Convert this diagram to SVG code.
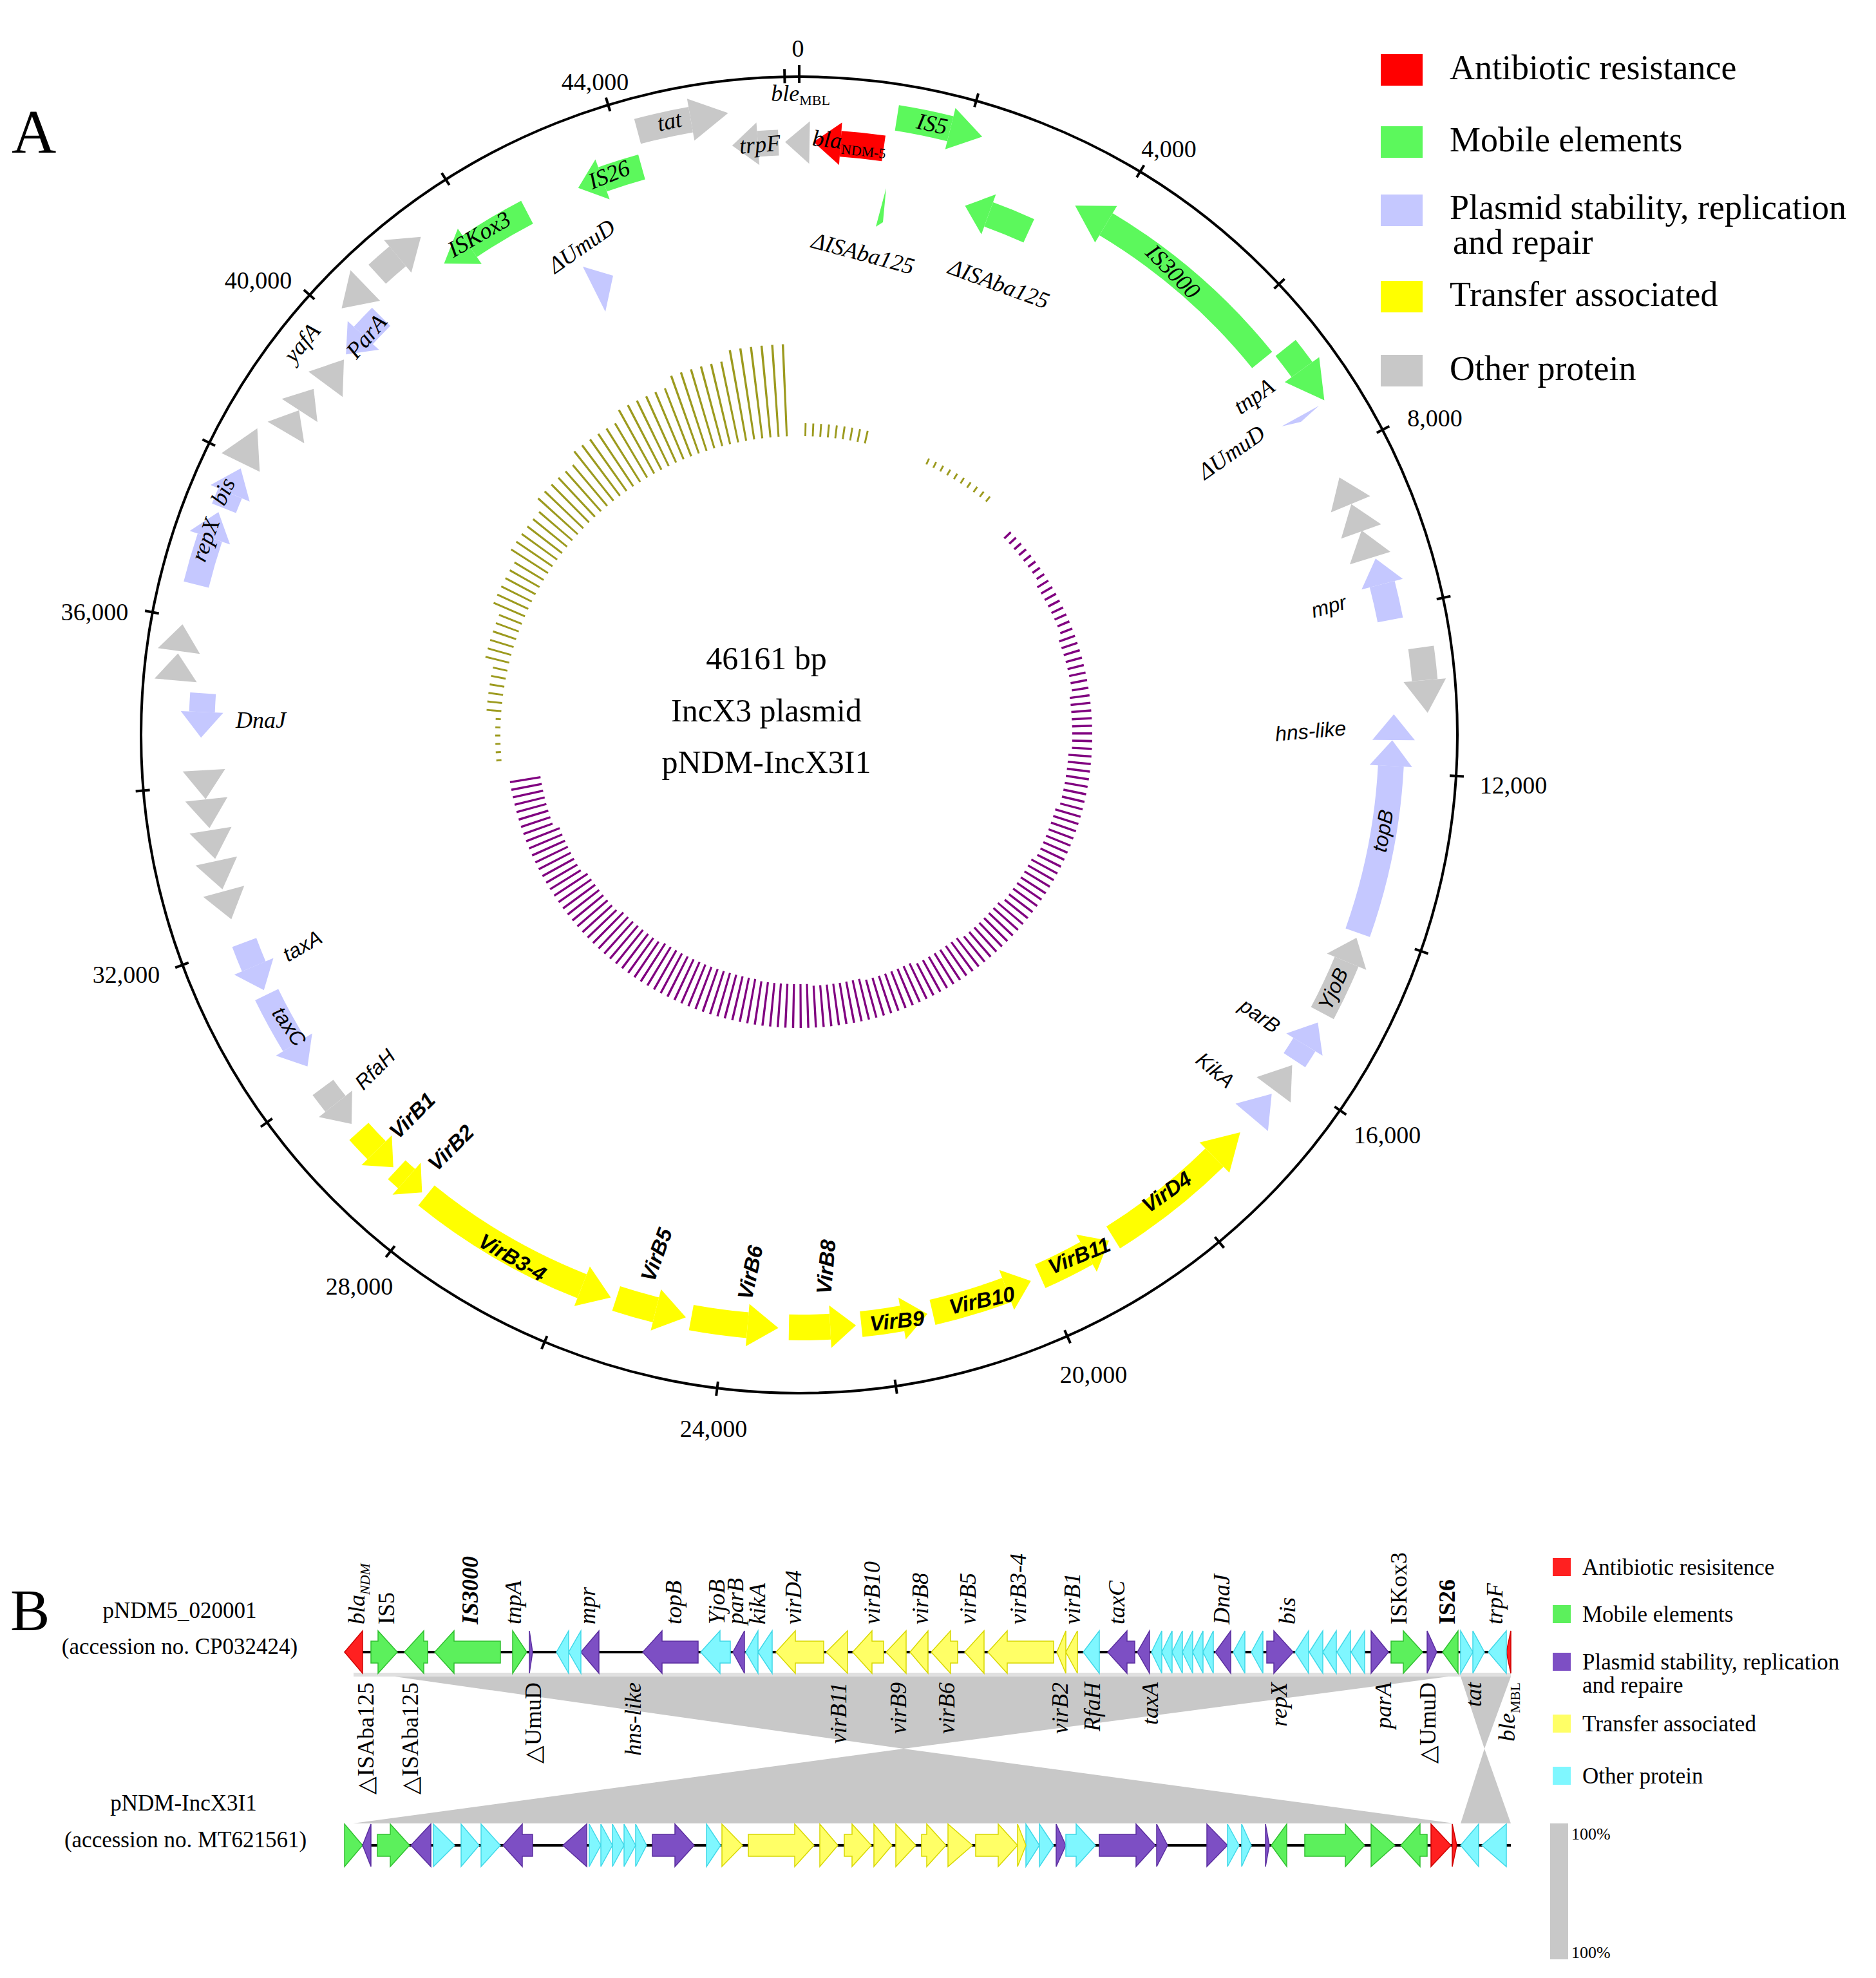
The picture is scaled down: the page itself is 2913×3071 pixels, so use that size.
<svg xmlns="http://www.w3.org/2000/svg" width="2913" height="3071" viewBox="0 0 2913 3071">
<style>
text{font-family:"Liberation Serif","Times New Roman",serif;fill:#000}
.it{font-style:italic;font-size:36px}
.sa{font-family:"Liberation Sans",Arial,sans-serif;font-style:italic;font-size:32px}
.vb{font-family:"Liberation Sans",Arial,sans-serif;font-style:italic;font-weight:bold;font-size:33px}
.tk{font-size:38px;text-anchor:middle}
.b{fill:none;stroke-width:40}
.lg{font-size:54px}
.lb{font-size:35px}
.bl{font-style:italic;font-size:36px}
.o6{fill:none;stroke:#9c9a1e;stroke-dasharray:0.35 1.217 0.35 1.217 0.35 1.217 0.35 1.217 0.35 1.217 0.35 1.217 0 400}
.p8{fill:none;stroke:#800080;stroke-dasharray:0.45 1.05 0.45 1.05 0.45 1.05 0.45 1.05 0.45 1.05 0.45 1.05 0.45 1.05 0.45 1.05 0 400}
.R{fill:#ff0000}.G{fill:#5cf85c}.L{fill:#c5c8ff}.Y{fill:#ffff00}.Gr{fill:#c8c8c8}
.bR{fill:#ff2020;stroke:#d00000;stroke-width:1.5}
.bG{fill:#5cf05c;stroke:#30c030;stroke-width:1.5}
.bP{fill:#7d4fc4;stroke:#5b2ea0;stroke-width:1.5}
.bY{fill:#ffff66;stroke:#d8d800;stroke-width:1.5}
.bC{fill:#7ff7ff;stroke:#40d8e8;stroke-width:1.5}
</style>
<rect width="2913" height="3071" fill="#fff"/>
<text x="18" y="237" font-size="96">A</text>

<g id="backbone" transform="translate(1241,1141)">
<circle r="1022" fill="none" stroke="#000" stroke-width="4"/>
<g stroke="#000" stroke-width="4">
<line y1="-1012" y2="-1040" transform="rotate(0)"/><line y1="-1012" y2="-1034" transform="rotate(15.60)"/>
<line y1="-1012" y2="-1034" transform="rotate(31.19)"/><line y1="-1012" y2="-1034" transform="rotate(46.79)"/>
<line y1="-1012" y2="-1034" transform="rotate(62.39)"/><line y1="-1012" y2="-1034" transform="rotate(77.98)"/>
<line y1="-1012" y2="-1034" transform="rotate(93.58)"/><line y1="-1012" y2="-1034" transform="rotate(109.18)"/>
<line y1="-1012" y2="-1034" transform="rotate(124.77)"/><line y1="-1012" y2="-1034" transform="rotate(140.37)"/>
<line y1="-1012" y2="-1034" transform="rotate(155.97)"/><line y1="-1012" y2="-1034" transform="rotate(171.56)"/>
<line y1="-1012" y2="-1034" transform="rotate(187.16)"/><line y1="-1012" y2="-1034" transform="rotate(202.76)"/>
<line y1="-1012" y2="-1034" transform="rotate(218.36)"/><line y1="-1012" y2="-1034" transform="rotate(233.95)"/>
<line y1="-1012" y2="-1034" transform="rotate(249.55)"/><line y1="-1012" y2="-1034" transform="rotate(265.15)"/>
<line y1="-1012" y2="-1034" transform="rotate(280.74)"/><line y1="-1012" y2="-1034" transform="rotate(296.34)"/>
<line y1="-1012" y2="-1034" transform="rotate(311.94)"/><line y1="-1012" y2="-1034" transform="rotate(327.53)"/>
<line y1="-1012" y2="-1034" transform="rotate(343.13)"/><line y1="-1012" y2="-1034" transform="rotate(358.73)"/>
</g>
</g>
<g id="scale-labels" class="tk">
<text x="1239" y="88">0</text><text x="1815" y="244">4,000</text><text x="2228" y="662">8,000</text>
<text x="2350" y="1232">12,000</text><text x="2154" y="1775">16,000</text><text x="1698" y="2147">20,000</text>
<text x="1108" y="2231">24,000</text><text x="558" y="2010">28,000</text><text x="196" y="1526">32,000</text>
<text x="147" y="963">36,000</text><text x="401" y="448">40,000</text><text x="924" y="140">44,000</text>
</g>

<g id="gc-skew" transform="translate(1241,1141)">
<circle class="o6" pathLength="360" r="468" stroke-width="8" transform="rotate(175)"/>
<circle class="o6" pathLength="360" r="475.5" stroke-width="23" transform="rotate(184.4)"/>
<circle class="o6" pathLength="360" r="483" stroke-width="38" transform="rotate(193.8)"/>
<circle class="o6" pathLength="360" r="490.5" stroke-width="53" transform="rotate(203.2)"/>
<circle class="o6" pathLength="360" r="498" stroke-width="68" transform="rotate(212.6)"/>
<circle class="o6" pathLength="360" r="505.5" stroke-width="83" transform="rotate(222)"/>
<circle class="o6" pathLength="360" r="513" stroke-width="98" transform="rotate(231.4)"/>
<circle class="o6" pathLength="360" r="520.5" stroke-width="113" transform="rotate(240.8)"/>
<circle class="o6" pathLength="360" r="528" stroke-width="128" transform="rotate(250.2)"/>
<circle class="o6" pathLength="360" r="535.5" stroke-width="143" transform="rotate(259.6)"/>
<circle fill="none" stroke="#9c9a1e" pathLength="360" r="474" stroke-width="20" stroke-dasharray="0.35 1.09 0.35 1.09 0.35 1.09 0.35 1.09 0.35 1.09 0.35 1.09 0.35 1.09 0.35 1.09 0.35 1.09 0 400" transform="rotate(-89)"/>
<circle fill="none" stroke="#9c9a1e" pathLength="360" r="469" stroke-width="10" stroke-dasharray="0.35 1.15 0.35 1.15 0.35 1.15 0.35 1.15 0.35 1.15 0.35 1.15 0.35 1.15 0.35 1.15 0.35 1.15 0.35 1.15 0 400" transform="rotate(-65)"/>
<circle class="p8" pathLength="360" r="448" stroke-width="14" transform="rotate(-44)"/>
<circle class="p8" pathLength="360" r="445" stroke-width="20" transform="rotate(-32)"/>
<circle class="p8" pathLength="360" r="442" stroke-width="26" transform="rotate(-20)"/>
<circle class="p8" pathLength="360" r="439.5" stroke-width="31" transform="rotate(-8)"/>
<circle class="p8" pathLength="360" r="437" stroke-width="36" transform="rotate(4)"/>
<circle class="p8" pathLength="360" r="434.5" stroke-width="41" transform="rotate(16)"/>
<circle class="p8" pathLength="360" r="432" stroke-width="46" transform="rotate(28)"/>
<circle class="p8" pathLength="360" r="429.5" stroke-width="51" transform="rotate(40)"/>
<circle class="p8" pathLength="360" r="427" stroke-width="56" transform="rotate(52)"/>
<circle class="p8" pathLength="360" r="424.5" stroke-width="61" transform="rotate(64)"/>
<circle class="p8" pathLength="360" r="422.5" stroke-width="65" transform="rotate(76)"/>
<circle class="p8" pathLength="360" r="421" stroke-width="68" transform="rotate(88)"/>
<circle class="p8" pathLength="360" r="420" stroke-width="70" transform="rotate(100)"/>
<circle class="p8" pathLength="360" r="420" stroke-width="70" transform="rotate(112)"/>
<circle class="p8" pathLength="360" r="421.5" stroke-width="67" transform="rotate(124)"/>
<circle class="p8" pathLength="360" r="424" stroke-width="62" transform="rotate(136)"/>
<circle class="p8" pathLength="360" r="427" stroke-width="56" transform="rotate(148)"/>
<circle class="p8" pathLength="360" r="431" stroke-width="48" transform="rotate(160)"/>
</g>
<g id="center-title" font-size="50" text-anchor="middle">
<text x="1190" y="1039">46161 bp</text>
<text x="1190" y="1120">IncX3 plasmid</text>
<text x="1190" y="1200">pNDM-IncX3I1</text>
</g>

<g id="genes-a" transform="translate(1241,1141)">
<g id="blaNDM5"><circle class="b" stroke="#f00" pathLength="360" r="920" stroke-dasharray="4.2 400" transform="rotate(-86)"/><path class="R" d="M0,-953V-887L-42,-920Z" transform="rotate(4)"/></g>
<g id="IS5"><circle class="b" stroke="#5cf85c" pathLength="360" r="970" stroke-dasharray="5 400" transform="rotate(-81)"/><path class="G" d="M0,-1003V-937L51,-970Z" transform="rotate(14)"/></g>
<g id="dISAba125b"><circle class="b" stroke="#5cf85c" pathLength="360" r="860" stroke-dasharray="4.5 400" transform="rotate(-70)"/><path class="G" d="M0,-893V-827L-39,-860Z" transform="rotate(20)"/></g>
<g id="IS3000"><circle class="b" stroke="#5cf85c" pathLength="360" r="925" stroke-dasharray="20 400" transform="rotate(-59)"/><path class="G" d="M0,-958V-892L-56,-925Z" transform="rotate(31)"/></g>
<g id="tnpA"><circle class="b" stroke="#5cf85c" pathLength="360" r="965" stroke-dasharray="2.5 400" transform="rotate(-38.5)"/><path class="G" d="M0,-998V-932L59,-965Z" transform="rotate(54)"/></g>
<g id="gray8" class="Gr"><path d="M0,-961V-895L-45,-928Z" transform="rotate(67.3)"/><path d="M0,-961V-895L-45,-928Z" transform="rotate(70.1)"/><path d="M0,-961V-895L-45,-928Z" transform="rotate(72.8)"/></g>
<g id="mpr"><circle class="b" stroke="#c5c8ff" pathLength="360" r="935" stroke-dasharray="3.5 400" transform="rotate(-14.5)"/><path class="L" d="M0,-968V-902L-41,-935Z" transform="rotate(75.5)"/></g>
<g id="gray10"><circle class="b" stroke="#c8c8c8" pathLength="360" r="975" stroke-dasharray="3 400" transform="rotate(-8)"/><path class="Gr" d="M0,-1008V-942L51,-975Z" transform="rotate(85)"/></g>
<g id="hns"><path class="L" d="M0,-956V-890L-40,-923Z" transform="rotate(90.5)"/></g>
<g id="topB"><circle class="b" stroke="#c5c8ff" pathLength="360" r="920" stroke-dasharray="16.5 400" transform="rotate(3)"/><path class="L" d="M0,-953V-887L-40,-920Z" transform="rotate(93)"/></g>
<g id="YjoB"><circle class="b" stroke="#c8c8c8" pathLength="360" r="920" stroke-dasharray="5.5 400" transform="rotate(22.5)"/><path class="Gr" d="M0,-953V-887L-40,-920Z" transform="rotate(112.5)"/></g>
<g id="parB"><circle class="b" stroke="#c5c8ff" pathLength="360" r="920" stroke-dasharray="1.8 400" transform="rotate(31.5)"/><path class="L" d="M0,-953V-887L-40,-920Z" transform="rotate(121.5)"/></g>
<g id="gray15"><path class="Gr" d="M0,-953V-887L-48,-920Z" transform="rotate(126.8)"/></g>
<g id="kikA"><path class="L" d="M0,-953V-887L-48,-920Z" transform="rotate(130.2)"/></g>
<g id="VirD4"><circle class="b" stroke="#ff0" pathLength="360" r="920" stroke-dasharray="12.5 400" transform="rotate(45.5)"/><path class="Y" d="M0,-953V-887L-56,-920Z" transform="rotate(135.5)"/></g>
<g id="VirB11"><circle class="b" stroke="#ff0" pathLength="360" r="920" stroke-dasharray="5 400" transform="rotate(61)"/><path class="Y" d="M0,-953V-887L-40,-920Z" transform="rotate(151)"/></g>
<g id="VirB10"><circle class="b" stroke="#ff0" pathLength="360" r="920" stroke-dasharray="7.5 400" transform="rotate(69.5)"/><path class="Y" d="M0,-953V-887L-40,-920Z" transform="rotate(159.5)"/></g>
<g id="VirB9"><circle class="b" stroke="#ff0" pathLength="360" r="920" stroke-dasharray="4 400" transform="rotate(80)"/><path class="Y" d="M0,-953V-887L-40,-920Z" transform="rotate(170)"/></g>
<g id="VirB8"><circle class="b" stroke="#ff0" pathLength="360" r="920" stroke-dasharray="4 400" transform="rotate(87)"/><path class="Y" d="M0,-953V-887L-40,-920Z" transform="rotate(177)"/></g>
<g id="VirB6"><circle class="b" stroke="#ff0" pathLength="360" r="920" stroke-dasharray="5.5 400" transform="rotate(95)"/><path class="Y" d="M0,-953V-887L-48,-920Z" transform="rotate(185)"/></g>
<g id="VirB5"><circle class="b" stroke="#ff0" pathLength="360" r="920" stroke-dasharray="4 400" transform="rotate(104)"/><path class="Y" d="M0,-953V-887L-48,-920Z" transform="rotate(194)"/></g>
<g id="VirB34"><circle class="b" stroke="#ff0" pathLength="360" r="920" stroke-dasharray="17.5 400" transform="rotate(111.5)"/><path class="Y" d="M0,-953V-887L-48,-920Z" transform="rotate(201.5)"/></g>
<g id="VirB2"><circle class="b" stroke="#ff0" pathLength="360" r="920" stroke-dasharray="1.3 400" transform="rotate(131.5)"/><path class="Y" d="M0,-953V-887L-32,-920Z" transform="rotate(221.5)"/></g>
<g id="VirB1"><circle class="b" stroke="#ff0" pathLength="360" r="920" stroke-dasharray="2.5 400" transform="rotate(135.5)"/><path class="Y" d="M0,-953V-887L-37,-920Z" transform="rotate(225.5)"/></g>
<g id="RfaH"><circle class="b" stroke="#c8c8c8" pathLength="360" r="920" stroke-dasharray="2 400" transform="rotate(141.5)"/><path class="Gr" d="M0,-953V-887L-40,-920Z" transform="rotate(231.5)"/></g>
<g id="taxC"><circle class="b" stroke="#c5c8ff" pathLength="360" r="920" stroke-dasharray="5.5 400" transform="rotate(148.5)"/><path class="L" d="M0,-953V-887L-40,-920Z" transform="rotate(238.5)"/></g>
<g id="taxA"><circle class="b" stroke="#c5c8ff" pathLength="360" r="920" stroke-dasharray="2.5 400" transform="rotate(157)"/><path class="L" d="M0,-953V-887L-40,-920Z" transform="rotate(247)"/></g>
<g id="gray30" class="Gr"><path d="M0,-959V-893L-45,-926Z" transform="rotate(254.8)"/><path d="M0,-959V-893L-45,-926Z" transform="rotate(257.8)"/><path d="M0,-959V-893L-45,-926Z" transform="rotate(260.8)"/><path d="M0,-959V-893L-45,-926Z" transform="rotate(263.8)"/><path d="M0,-959V-893L-45,-926Z" transform="rotate(266.6)"/></g>
<g id="DnaJ"><circle class="b" stroke="#c5c8ff" pathLength="360" r="928" stroke-dasharray="1.8 400" transform="rotate(182.2)"/><path class="L" d="M0,-961V-895L-40,-928Z" transform="rotate(272.2)"/></g>
<g id="gray32" class="Gr"><path d="M0,-1005V-939L42,-972Z" transform="rotate(275)"/><path d="M0,-1005V-939L42,-972Z" transform="rotate(277.7)"/></g>
<g id="repX"><circle class="b" stroke="#c5c8ff" pathLength="360" r="965" stroke-dasharray="4.5 400" transform="rotate(194)"/><path class="L" d="M0,-998V-932L42,-965Z" transform="rotate(288.5)"/></g>
<g id="bis"><circle class="b" stroke="#c5c8ff" pathLength="360" r="960" stroke-dasharray="1.5 400" transform="rotate(201.5)"/><path class="L" d="M0,-993V-927L42,-960Z" transform="rotate(293)"/></g>
<g id="gray35" class="Gr"><path d="M0,-998V-932L59,-965Z" transform="rotate(296)"/></g>
<g id="gray36" class="Gr"><path d="M0,-958V-892L40,-925Z" transform="rotate(300.5)"/><path d="M0,-958V-892L40,-925Z" transform="rotate(303)"/><path d="M0,-948V-882L48,-915Z" transform="rotate(306.5)"/></g>
<g id="ParA"><circle class="b" stroke="#c5c8ff" pathLength="360" r="918" stroke-dasharray="2.5 400" transform="rotate(222.5)"/><path class="L" d="M0,-951V-885L-40,-918Z" transform="rotate(312.5)"/></g>
<g id="gray39" class="Gr"><path d="M0,-1003V-937L-51,-970Z" transform="rotate(316)"/></g>
<g id="yafA"><circle class="b" stroke="#c8c8c8" pathLength="360" r="970" stroke-dasharray="2.5 400" transform="rotate(227.5)"/><path class="Gr" d="M0,-1003V-937L47,-970Z" transform="rotate(320)"/></g>
<g id="ISKox3"><circle class="b" stroke="#5cf85c" pathLength="360" r="915" stroke-dasharray="6.5 400" transform="rotate(236)"/><path class="G" d="M0,-948V-882L-48,-915Z" transform="rotate(326)"/></g>
<g id="IS26"><circle class="b" stroke="#5cf85c" pathLength="360" r="915" stroke-dasharray="4 400" transform="rotate(250.5)"/><path class="G" d="M0,-948V-882L-40,-915Z" transform="rotate(340.5)"/></g>
<g id="tat"><circle class="b" stroke="#c8c8c8" pathLength="360" r="970" stroke-dasharray="5 400" transform="rotate(255)"/><path class="Gr" d="M0,-1003V-937L59,-970Z" transform="rotate(350)"/></g>
<g id="trpF"><circle class="b" stroke="#c8c8c8" pathLength="360" r="920" stroke-dasharray="2 400" transform="rotate(266)"/><path class="Gr" d="M0,-953V-887L-40,-920Z" transform="rotate(356)"/></g>
<g id="bleMBL"><path class="Gr" d="M0,-953V-887L-38,-920Z" transform="rotate(361)"/></g>
</g>
<g id="slivers">
<polygon class="G" points="1360,352 1376,292 1371,345"/>
<polygon class="L" points="1990,662 2048,630 2020,655"/>
<polygon class="L" points="905,414 952,428 940,484"/>
</g>

<g id="labels-a" text-anchor="middle">
<text class="it" transform="translate(1243,157)">ble<tspan font-size="22" dy="6" font-style="normal">MBL</tspan></text>
<text class="it" transform="translate(1042,200) rotate(-12)" font-size="40">tat</text>
<text class="it" transform="translate(1181,236) rotate(-5)">trpF</text>
<text class="it" transform="translate(1318,232) rotate(6)">bla<tspan font-size="22" dy="8" font-style="normal">NDM-5</tspan></text>
<text class="it" transform="translate(1445,204) rotate(12)" font-style="normal">IS5</text>
<text class="it" transform="translate(950,282) rotate(-22)" font-style="normal">IS26</text>
<text class="it" transform="translate(750,374) rotate(-30)">ISKox3</text>
<text class="it" transform="translate(910,392) rotate(-35)">ΔUmuD</text>
<text class="it" transform="translate(1337,405) rotate(15)">ΔISAba125</text>
<text class="it" transform="translate(1547,452) rotate(20)">ΔISAba125</text>
<text class="it" transform="translate(1813,430) rotate(45)" font-style="normal">IS3000</text>
<text class="it" transform="translate(1954,625) rotate(-35)">tnpA</text>
<text class="it" transform="translate(1919,712) rotate(-35)">ΔUmuD</text>
<text class="sa" transform="translate(2066,952) rotate(-15)">mpr</text>
<text class="sa" transform="translate(2036,1146) rotate(-5)">hns-like</text>
<text class="sa" transform="translate(2158,1292) rotate(-80)">topB</text>
<text class="sa" transform="translate(2080,1540) rotate(-65)">YjoB</text>
<text class="sa" transform="translate(1950,1586) rotate(35)">parB</text>
<text class="sa" transform="translate(1880,1670) rotate(40)">KikA</text>
<text class="vb" transform="translate(1818,1860) rotate(-35)">VirD4</text>
<text class="vb" transform="translate(1680,1960) rotate(-22)">VirB11</text>
<text class="vb" transform="translate(1527,2030) rotate(-12)">VirB10</text>
<text class="vb" transform="translate(1394,2062) rotate(-6)">VirB9</text>
<text class="vb" transform="translate(1294,1968) rotate(-85)">VirB8</text>
<text class="vb" transform="translate(1176,1978) rotate(-78)">VirB6</text>
<text class="vb" transform="translate(1030,1952) rotate(-70)">VirB5</text>
<text class="vb" transform="translate(790,1962) rotate(30)">VirB3-4</text>
<text class="vb" transform="translate(708,1790) rotate(-45)">VirB2</text>
<text class="vb" transform="translate(648,1740) rotate(-45)">VirB1</text>
<text class="sa" transform="translate(590,1668) rotate(-45)">RfaH</text>
<text class="sa" transform="translate(440,1600) rotate(55)">taxC</text>
<text class="sa" transform="translate(475,1478) rotate(-30)">taxA</text>
<text class="it" transform="translate(405,1130)">DnaJ</text>
<text class="it" transform="translate(357,768) rotate(-65)">bis</text>
<text class="it" transform="translate(330,842) rotate(-70)">repX</text>
<text class="it" transform="translate(478,540) rotate(-50)">yafA</text>
<text class="it" transform="translate(578,530) rotate(-50)">ParA</text>
</g>

<g id="legend-a" class="lg">
<rect x="2144" y="84" width="65" height="49" fill="#ff0000"/><text x="2251" y="123">Antibiotic resistance</text>
<rect x="2144" y="196" width="65" height="49" fill="#5cf85c"/><text x="2251" y="235">Mobile elements</text>
<rect x="2144" y="302" width="65" height="49" fill="#c5c8ff"/><text x="2251" y="340">Plasmid stability, replication</text><text x="2256" y="394">and repair</text>
<rect x="2144" y="436" width="65" height="49" fill="#ffff00"/><text x="2251" y="475">Transfer associated</text>
<rect x="2144" y="551" width="65" height="49" fill="#c8c8c8"/><text x="2251" y="590">Other protein</text>
</g>

<text x="16" y="2531" font-size="92">B</text>
<g id="track-labels" class="lb" text-anchor="middle">
<text x="279" y="2512">pNDM5_020001</text>
<text x="279" y="2568">(accession no. CP032424)</text>
<text x="285" y="2811">pNDM-IncX3I1</text>
<text x="288" y="2868">(accession no. MT621561)</text>
</g>
<g id="connectors">
<rect x="549" y="2597" width="1797" height="6" fill="#e0e0e0"/>
<polygon points="613,2603 2249,2603 1403,2715" fill="#c8c8c8"/>
<polygon points="548,2831 2258,2831 1403,2715" fill="#c8c8c8"/>
<polygon points="2268,2603 2346,2603 2305,2715" fill="#c8c8c8"/>
<polygon points="2268,2831 2346,2831 2305,2715" fill="#c8c8c8"/>
</g>
<g id="track-top" transform="translate(0,2565)">
<line x1="535" y1="0" x2="2346" y2="0" stroke="#000" stroke-width="4"/>
<path class="bR" d="M535 0l28-33v66z M2339 0l7-33v66z"/>
<path class="bG" d="M617 0l-30-33v16h-11v34h11v16z M628 0l30-33v16h6v34h-6v16z M675 0l30-33v16h72v34h-72v16z M818 0l-22-33v66z M2209 0l-30-33v16h-19v34h19v16z M2240 0l24-33v66z"/>
<path class="bP" d="M827 0l-5-33v66z M902 0l28-33v66z M998 0l30-33v16h56v34h-56v16z M1138 0l18-33v66z M1720 0l30-33v16h12v34h-12v16z M1766 0l19-33v66z M1887 0l24-33v66z M2008 0l-30-33v16h-11v34h11v16z M2156 0l-27-33v66z M2231 0l-15-33v66z"/>
<path class="bC" d="M864 0l19-33v66z M883 0l19-33v66z M1088 0l30-33v16h16v34h-16v16z M1158 0l19-33v66z M1177 0l22-33v66z M1682 0l25-33v66z M1788 0l16-33v66z M1804 0l16-33v66z M1820 0l16-33v66z M1836 0l16-33v66z M1852 0l16-33v66z M1868 0l16-33v66z M1915 0l18-33v66z M1943 0l18-33v66z M2011 0l21-33v66z M2033 0l21-33v66z M2054 0l21-33v66z M2076 0l21-33v66z M2098 0l21-33v66z M2287 0l-19-33v66z M2305 0l-18-33v66z M2311 0l28-33v66z"/>
<path class="bY" d="M1205 0l30-33v16h44v34h-44v16z M1283 0l33-33v66z M1324 0l30-33v16h18v34h-18v16z M1376 0l31-33v66z M1413 0l28-33v66z M1446 0l30-33v16h11v34h-11v16z M1498 0l30-33v66z M1534 0l30-33v16h72v34h-72v16z M1641 0l14-33v66z M1655 0l18-33v66z"/>
</g>
<g id="track-bottom" transform="translate(0,2865)">
<line x1="535" y1="0" x2="2346" y2="0" stroke="#000" stroke-width="4"/>
<path class="bG" d="M563 0l-28-33v66z M636 0l-30-33v16h-20v34h20v16z M1974 0l24-33v66z M2119 0l-30-33v16h-63v34h63v16z M2166 0l-37-33v66z M2175 0l30-33v16h11v34h-11v16z"/>
<path class="bP" d="M563 0l13-33v66z M638 0l31-33v66z M781 0l30-33v16h16v34h-16v16z M874 0l37-33v66z M1078 0l-30-33v16h-35v34h35v16z M1655 0l-15-33v66z M1794 0l-30-33v16h-57v34h57v16z M1813 0l-17-33v66z M1906 0l-32-33v66z M1971 0l-6-33v66z"/>
<path class="bC" d="M706 0l-33-33v66z M744 0l-28-33v66z M777 0l-30-33v66z M933 0l-18-33v66z M951 0l-18-33v66z M969 0l-18-33v66z M987 0l-18-33v66z M1004 0l-17-33v66z M1119 0l-22-33v66z M1614 0l-21-33v66z M1636 0l-22-33v66z M1701 0l-30-33v16h-16v34h16v16z M1924 0l-18-33v66z M1943 0l-15-33v66z M2268 0l28-33v66z M2301 0l38-33v66z"/>
<path class="bY" d="M1153 0l-32-33v66z M1264 0l-30-33v16h-72v34h72v16z M1301 0l-28-33v66z M1353 0l-30-33v16h-12v34h12v16z M1385 0l-28-33v66z M1422 0l-31-33v66z M1469 0l-30-33v16h-8v34h8v16z M1510 0l-38-33v66z M1580 0l-30-33v16h-35v34h35v16z M1593 0l-13-33v66z"/>
<path class="bR" d="M2253 0l-31-33v66z M2262 0l-7-33v66z"/>
</g>
<g id="labels-b-top" class="bl">
<text transform="translate(566,2522) rotate(-90)">bla<tspan font-size="22" dy="8">NDM</tspan></text>
<text transform="translate(612,2522) rotate(-90)" font-style="normal">IS5</text>
<text transform="translate(742,2522) rotate(-90)" font-weight="bold">IS3000</text>
<text transform="translate(809,2522) rotate(-90)">tnpA</text>
<text transform="translate(924,2522) rotate(-90)">mpr</text>
<text transform="translate(1058,2522) rotate(-90)">topB</text>
<text transform="translate(1125,2522) rotate(-90)">YjoB</text>
<text transform="translate(1154,2522) rotate(-90)">parB</text>
<text transform="translate(1188,2522) rotate(-90)">kikA</text>
<text transform="translate(1244,2522) rotate(-90)">virD4</text>
<text transform="translate(1366,2522) rotate(-90)">virB10</text>
<text transform="translate(1441,2522) rotate(-90)">virB8</text>
<text transform="translate(1515,2522) rotate(-90)">virB5</text>
<text transform="translate(1593,2522) rotate(-90)">virB3-4</text>
<text transform="translate(1677,2522) rotate(-90)">virB1</text>
<text transform="translate(1746,2522) rotate(-90)">taxC</text>
<text transform="translate(1909,2522) rotate(-90)">DnaJ</text>
<text transform="translate(2011,2522) rotate(-90)">bis</text>
<text transform="translate(2184,2522) rotate(-90)" font-style="normal">ISKox3</text>
<text transform="translate(2259,2522) rotate(-90)" font-style="normal" font-weight="bold">IS26</text>
<text transform="translate(2333,2522) rotate(-90)">trpF</text>
</g>
<g id="labels-b-mid" class="bl" text-anchor="end">
<text transform="translate(580,2612) rotate(-90)" font-style="normal">△ISAba125</text>
<text transform="translate(649,2612) rotate(-90)" font-style="normal">△ISAba125</text>
<text transform="translate(840,2612) rotate(-90)" font-style="normal">△UmuD</text>
<text transform="translate(995,2612) rotate(-90)">hns-like</text>
<text transform="translate(1314,2612) rotate(-90)">virB11</text>
<text transform="translate(1407,2612) rotate(-90)">virB9</text>
<text transform="translate(1482,2612) rotate(-90)">virB6</text>
<text transform="translate(1658,2612) rotate(-90)">virB2</text>
<text transform="translate(1708,2612) rotate(-90)">RfaH</text>
<text transform="translate(1798,2612) rotate(-90)">taxA</text>
<text transform="translate(1998,2612) rotate(-90)">repX</text>
<text transform="translate(2160,2612) rotate(-90)">parA</text>
<text transform="translate(2229,2612) rotate(-90)" font-style="normal">△UmuD</text>
<text transform="translate(2300,2612) rotate(-90)">tat</text>
<text transform="translate(2352,2612) rotate(-90)">ble<tspan font-size="22" dy="8" font-style="normal">MBL</tspan></text>
</g>
<g id="legend-b" class="lb">
<rect x="2411" y="2419" width="28" height="28" fill="#ff2020"/><text x="2457" y="2445">Antibiotic resisitence</text>
<rect x="2411" y="2492" width="28" height="28" fill="#5cf05c"/><text x="2457" y="2518">Mobile elements</text>
<rect x="2411" y="2566" width="28" height="28" fill="#7d4fc4"/><text x="2457" y="2592">Plasmid stability, replication</text><text x="2457" y="2628">and repaire</text>
<rect x="2411" y="2662" width="28" height="28" fill="#ffff66"/><text x="2457" y="2688">Transfer associated</text>
<rect x="2411" y="2743" width="28" height="28" fill="#7ff7ff"/><text x="2457" y="2769">Other protein</text>
</g>
<g id="identity-scale">
<rect x="2407" y="2831" width="28" height="211" fill="#c8c8c8"/>
<text x="2440" y="2856" font-size="26">100%</text>
<text x="2440" y="3040" font-size="26">100%</text>
</g>
</svg>
